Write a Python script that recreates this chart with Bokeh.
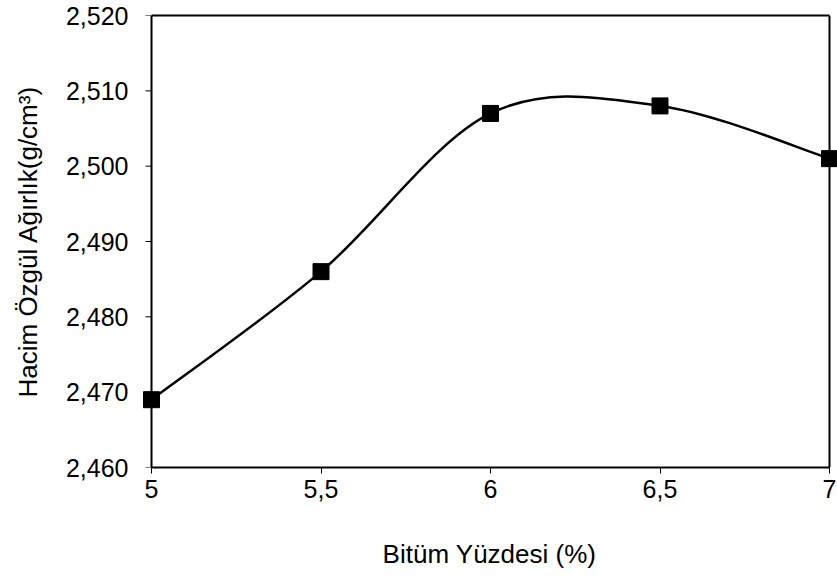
import math
from bokeh.plotting import figure
from bokeh.models import Range1d, FixedTicker, CustomJSTickFormatter, ColumnDataSource, LinearAxis
from bokeh.embed import file_html
from bokeh.resources import INLINE

# data
bitum = [5.0, 5.5, 6.0, 6.5, 7.0]
hacim = [2.469, 2.486, 2.507, 2.508, 2.501]
x_ticks = [5.0, 5.5, 6.0, 6.5, 7.0]
y_ticks = [2.460, 2.470, 2.480, 2.490, 2.500, 2.510, 2.520]

FONT = "Liberation Sans"
FS = "25px"
FS_TITLE = "26px"

# box geometry (pixels): plot box 678 px wide, with a little room so edge markers are not cut
BOX_W = 678
PAD_L, PAD_R = 10, 8
xmin, xmax = x_ticks[0], x_ticks[-1]
ppu = BOX_W / (xmax - xmin)
x_range = Range1d(xmin - PAD_L / ppu, xmax + PAD_R / ppu)
y_range = Range1d(y_ticks[0], y_ticks[-1])

p = figure(frame_width=BOX_W + PAD_L + PAD_R, frame_height=452,
           output_backend="svg", toolbar_location=None,
           x_range=x_range, y_range=y_range,
           min_border_left=141, min_border_right=0, min_border_top=15, min_border_bottom=4)

# smoothed line (Excel-style Catmull-Rom bezier through the points)
n = len(bitum)
x0, y0, x1, y1, cx0, cy0, cx1, cy1 = [], [], [], [], [], [], [], []
for i in range(n - 1):
    pm = i - 1 if i > 0 else i
    pp = i + 2 if i + 2 < n else i + 1
    x0.append(bitum[i]); y0.append(hacim[i])
    x1.append(bitum[i + 1]); y1.append(hacim[i + 1])
    cx0.append(bitum[i] + (bitum[i + 1] - bitum[pm]) / 6)
    cy0.append(hacim[i] + (hacim[i + 1] - hacim[pm]) / 6)
    cx1.append(bitum[i + 1] - (bitum[pp] - bitum[i]) / 6)
    cy1.append(hacim[i + 1] - (hacim[pp] - hacim[i]) / 6)

bz = ColumnDataSource(dict(x0=x0, y0=y0, x1=x1, y1=y1, cx0=cx0, cy0=cy0, cx1=cx1, cy1=cy1))
p.bezier(x0="x0", y0="y0", x1="x1", y1="y1", cx0="cx0", cy0="cy0", cx1="cx1", cy1="cy1",
         source=bz, line_color="black", line_width=2.5)
p.scatter(bitum, hacim, marker="square", size=16, fill_color="black", line_color="black")

# y-axis tick marks (pointing outwards from the box's left edge)
p.ray(x=[xmin] * len(y_ticks), y=y_ticks, length=6, length_units="screen",
      angle=math.pi, line_color="black", line_width=1)

p.xgrid.visible = False
p.ygrid.visible = False
p.outline_line_color = None
p.background_fill_color = "white"
p.border_fill_color = "white"

p.xaxis.ticker = FixedTicker(ticks=x_ticks)
p.yaxis.ticker = FixedTicker(ticks=y_ticks)
p.xaxis.formatter = CustomJSTickFormatter(code="return String(tick).replace('.', ',');")
p.yaxis.formatter = CustomJSTickFormatter(code="return tick.toFixed(3).replace('.', ',');")
p.xaxis.bounds = (xmin, xmax)

for ax in (p.xaxis[0], p.yaxis[0]):
    ax.axis_line_color = "black"
    ax.axis_line_width = 2
    ax.major_tick_line_color = "black"
    ax.major_tick_line_width = 1
    ax.major_tick_out = 6
    ax.major_tick_in = 0
    ax.minor_tick_out = 0
    ax.minor_tick_in = 0
    ax.major_label_text_font = FONT
    ax.major_label_text_font_size = FS
    ax.major_label_text_color = "black"
    ax.axis_label_text_font = FONT
    ax.axis_label_text_font_size = FS_TITLE
    ax.axis_label_text_font_style = "normal"
    ax.axis_label_text_color = "black"

# the default left axis only carries labels and title (it sits PAD_L px left of the box)
p.yaxis.axis_line_color = None
p.yaxis.major_tick_out = 0
p.yaxis.major_label_standoff = 13
p.yaxis.axis_label_standoff = 20

p.xaxis.axis_label = "Bitüm Yüzdesi (%)"
p.yaxis.axis_label = "Hacim Özgül Ağırlık(g/cm³)"
p.xaxis.major_label_standoff = 6
p.xaxis.axis_label_standoff = 38

def edge(**kw):
    return LinearAxis(ticker=FixedTicker(ticks=[]), axis_line_width=2,
                      major_tick_out=0, major_tick_in=0, minor_tick_out=0, minor_tick_in=0,
                      major_label_standoff=0, **kw)

# box edges: left (x = 5), right (x = 7) and top
p.add_layout(edge(fixed_location=xmin, bounds=(y_ticks[0], y_ticks[-1])), "left")
p.add_layout(edge(fixed_location=xmax, bounds=(y_ticks[0], y_ticks[-1])), "left")
p.add_layout(edge(bounds=(xmin, xmax)), "above")

open("out.html", "w").write(file_html(p, INLINE))
